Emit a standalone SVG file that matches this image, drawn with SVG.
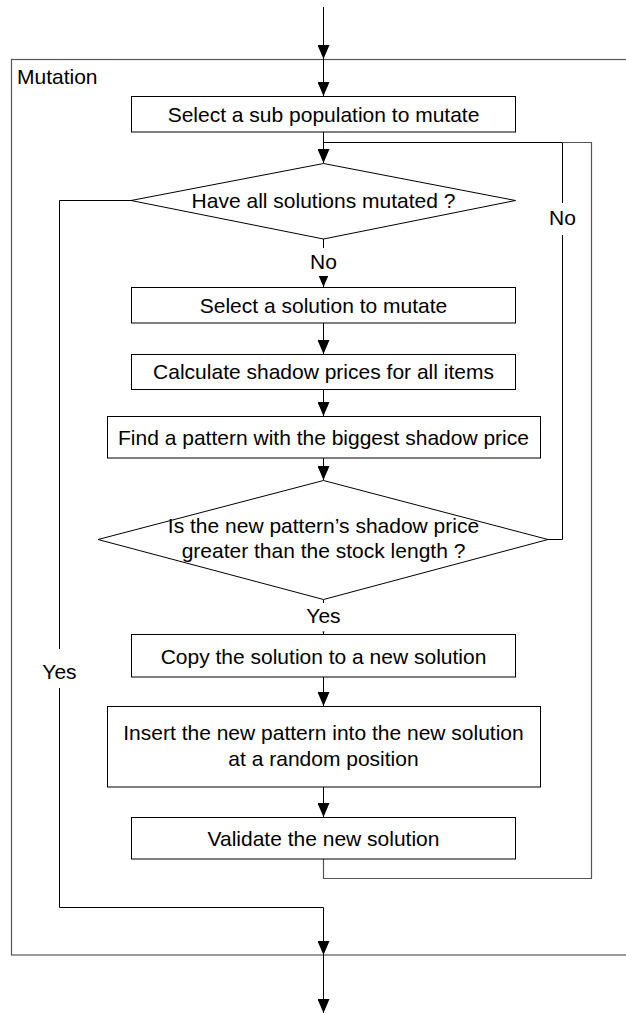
<svg xmlns="http://www.w3.org/2000/svg" width="626" height="1013" viewBox="0 0 626 1013">
<style>
text{font-family:"Liberation Sans",Arial,sans-serif;font-size:21px;fill:#000}
.c{text-anchor:middle}
.box{fill:#fff;stroke:#000;stroke-width:1}
.ln{fill:none;stroke:#000;stroke-width:1}
.fr{fill:none;stroke:#555;stroke-width:1.2}
.bg{fill:#fff;stroke:none}
</style>
<defs>
<marker id="ah" markerUnits="userSpaceOnUse" markerWidth="14" markerHeight="12" refX="14" refY="6" orient="auto">
<path d="M0,0 L14,6 L0,12 z" fill="#000"/>
</marker>
</defs>
<rect width="626" height="1013" fill="#fff"/>
<g id="frame">
<rect class="fr" x="11.5" y="59.5" width="640" height="895.5"/>
<text x="17" y="84">Mutation</text>
</g>
<g id="connectors">
<line class="ln" x1="323.5" y1="7" x2="323.5" y2="59" marker-end="url(#ah)"/>
<line class="ln" x1="323.5" y1="59" x2="323.5" y2="96" marker-end="url(#ah)"/>
<line class="ln" x1="323.5" y1="132" x2="323.5" y2="163" marker-end="url(#ah)"/>
<line class="ln" x1="323.5" y1="239" x2="323.5" y2="287" marker-end="url(#ah)"/>
<line class="ln" x1="323.5" y1="323" x2="323.5" y2="354" marker-end="url(#ah)"/>
<line class="ln" x1="323.5" y1="389" x2="323.5" y2="416" marker-end="url(#ah)"/>
<line class="ln" x1="323.5" y1="458" x2="323.5" y2="480" marker-end="url(#ah)"/>
<line class="ln" x1="323.5" y1="600" x2="323.5" y2="634" marker-end="url(#ah)"/>
<line class="ln" x1="323.5" y1="677" x2="323.5" y2="706" marker-end="url(#ah)"/>
<line class="ln" x1="323.5" y1="775" x2="323.5" y2="817" marker-end="url(#ah)"/>
<polyline class="ln" points="548,539.5 562.5,539.5 562.5,142.5 323.5,142.5"/>
<polyline class="fr" points="323.5,859 323.5,878.5 591.5,878.5 591.5,142.5 562.5,142.5"/>
<polyline class="ln" points="131,200.5 59.5,200.5 59.5,907.5 323.5,907.5 323.5,955" marker-end="url(#ah)"/>
<line class="ln" x1="323.5" y1="955" x2="323.5" y2="1013" marker-end="url(#ah)"/>
<rect class="bg" x="305" y="248" width="37" height="28"/>
<text class="c" x="323.5" y="269">No</text>
<rect class="bg" x="302" y="603" width="43" height="28.5"/>
<text class="c" x="323.5" y="623">Yes</text>
<rect class="bg" x="545" y="203" width="35" height="32"/>
<text class="c" x="562.5" y="225">No</text>
<rect class="bg" x="40" y="649" width="40" height="39"/>
<text class="c" x="59.5" y="679">Yes</text>
</g>
<g id="n1">
<rect class="box" x="131.5" y="96.5" width="384" height="35.5"/>
<text class="c" x="323.5" y="121.5">Select a sub population to mutate</text>
</g>
<g id="d1">
<polygon class="box" points="323.5,163.5 515.5,200.5 323.5,239 131,200.5"/>
<text class="c" x="323.5" y="207.5">Have all solutions mutated ?</text>
</g>
<g id="n2">
<rect class="box" x="131.5" y="287.5" width="384" height="35.5"/>
<text class="c" x="323.5" y="312.5">Select a solution to mutate</text>
</g>
<g id="n3">
<rect class="box" x="131.5" y="354.5" width="384" height="35"/>
<text class="c" x="323.5" y="378.5">Calculate shadow prices for all items</text>
</g>
<g id="n4">
<rect class="box" x="107.5" y="416.5" width="433" height="41.5"/>
<text class="c" x="323.5" y="444.5">Find a pattern with the biggest shadow price</text>
</g>
<g id="d2">
<polygon class="box" points="323.5,480.5 548,539.5 323.5,599.5 98,539.5"/>
<text class="c" x="323.5" y="533">Is the new pattern’s shadow price</text>
<text class="c" x="323.5" y="558">greater than the stock length ?</text>
</g>
<g id="n5">
<rect class="box" x="131.5" y="634.5" width="384" height="42.5"/>
<text class="c" x="323.5" y="663.5">Copy the solution to a new solution</text>
</g>
<g id="n6">
<rect class="box" x="107.5" y="706.5" width="433" height="80.5"/>
<text class="c" x="323.5" y="740">Insert the new pattern into the new solution</text>
<text class="c" x="323.5" y="766">at a random position</text>
</g>
<g id="n7">
<rect class="box" x="131.5" y="817.5" width="384" height="41.5"/>
<text class="c" x="323.5" y="845.5">Validate the new solution</text>
</g>
</svg>
